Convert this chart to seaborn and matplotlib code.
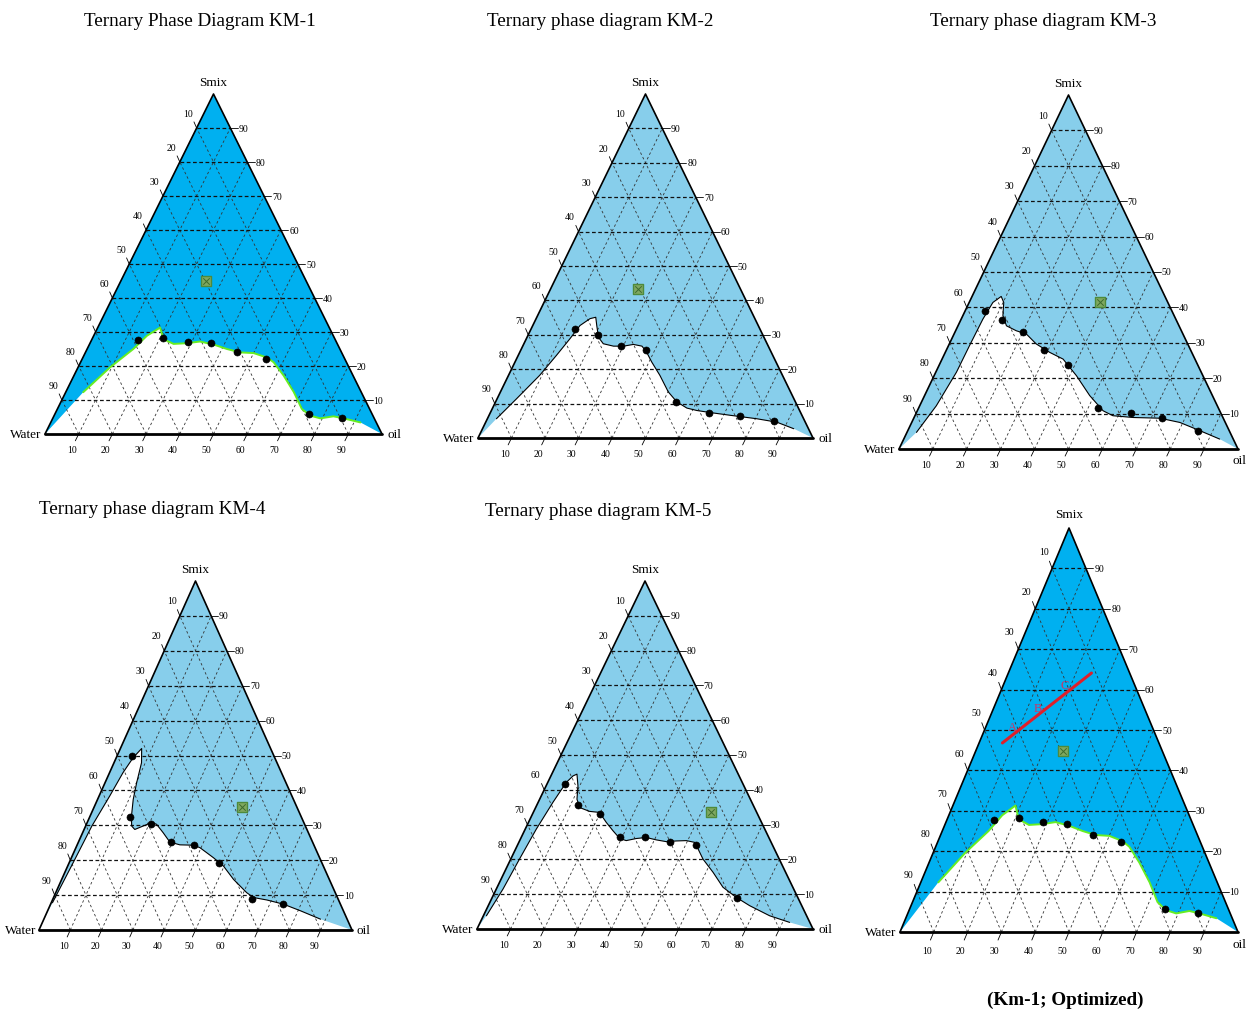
import numpy as np
import matplotlib
matplotlib.use('Agg')
import matplotlib.pyplot as plt
import seaborn as sns

sns.set_theme(style='white')
plt.rcParams['font.family'] = ['Liberation Serif', 'DejaVu Serif']
plt.rcParams['text.color'] = 'black'

# Data: (oil %, Smix %); water = 100 - oil - smix
km1_curve_oil = [5.2, 9.5, 13.7, 15.8, 18.5, 21.2, 24.9, 28.7, 32.4, 36.9, 41.5, 45.9, 50.0,
                 54.6, 57.3, 62.2, 67.7, 72.5, 76.0, 79.4, 83.0, 86.3, 91.9]
km1_curve_smix = [12.3, 19.6, 25.0, 28.9, 31.3, 27.9, 26.5, 26.7, 27.2, 26.3, 25.0, 24.0, 23.8,
                  22.5, 21.1, 17.2, 12.3, 7.4, 5.4, 4.6, 5.2, 4.6, 3.4]
km1_dot_oil = [13.9, 21.0, 28.7, 36.0, 45.0, 54.4, 75.4, 85.7]
km1_dot_smix = [27.6, 28.2, 27.2, 26.7, 24.0, 22.2, 5.8, 4.7]

km2_curve_oil = [2.7, 5.8, 9.3, 11.4, 13.0, 14.1, 16.1, 17.6, 19.1, 21.3, 23.7, 27.1, 30.1, 32.8,
                 35.6, 37.8, 40.8, 45.2, 50.1, 54.1, 58.0, 61.3, 65.6, 72.0, 80.4, 86.9, 92.9]
km2_curve_smix = [5.6, 11.4, 18.2, 24.0, 28.8, 32.7, 34.7, 35.1, 32.7, 29.3, 27.4, 26.7, 26.7, 27.2,
                  26.7, 25.0, 22.1, 18.2, 13.4, 10.5, 8.7, 8.0, 7.4, 6.6, 5.6, 4.6, 2.7]
km2_dot_oil = [13.1, 20.8, 29.3, 37.3, 53.9, 65.2, 75.1, 86.0]
km2_dot_smix = [31.6, 29.8, 26.7, 25.7, 10.5, 7.3, 6.4, 4.8]

km3_curve_oil = [2.8, 4.9, 6.1, 6.2, 6.4, 7.0, 8.6, 10.2, 11.8, 14.3, 17.9, 21.3, 25.6, 30.8,
                 35.7, 42.0, 48.7, 54.8, 58.4, 64.6, 72.6, 79.1, 86.1, 93.2]
km3_curve_smix = [4.7, 12.2, 21.7, 29.2, 36.7, 41.4, 43.1, 41.4, 37.7, 34.8, 33.4, 32.5, 29.7, 27.3,
                  25.4, 20.7, 15.1, 10.8, 9.4, 8.9, 8.7, 7.5, 5.2, 2.8]
km3_dot_oil = [5.8, 12.1, 20.1, 28.7, 38.0, 52.9, 63.3, 73.2, 85.6]
km3_dot_smix = [38.9, 36.5, 33.0, 28.1, 23.8, 11.7, 10.1, 8.7, 5.2]

km4_curve_oil = [0.4, 1.2, 2.0, 3.4, 4.3, 5.4, 6.8, 8.8, 10.1, 11.4, 13.2, 14.7, 16.2, 18.4, 20.6,
                 22.4, 25.7, 29.2, 32.8, 37.2, 39.6, 45.4, 49.8, 54.9, 61.0, 63.9, 68.5, 74.4,
                 80.8, 88.4]
km4_curve_smix = [7.8, 18.3, 29.8, 38.4, 45.1, 49.4, 52.0, 47.9, 42.2, 37.4, 32.7, 29.8, 28.8, 29.8,
                  30.8, 30.3, 27.9, 25.2, 24.4, 24.3, 23.6, 20.7, 18.3, 14.5, 10.7, 9.3, 8.6, 7.4,
                  5.5, 3.1]
km4_dot_oil = [4.6, 12.8, 20.5, 29.4, 37.4, 47.9, 63.4, 74.2]
km4_dot_smix = [50.0, 32.5, 30.5, 25.3, 24.3, 19.3, 9.0, 7.4]

km5_curve_oil = [0.9, 2.0, 2.6, 3.3, 4.4, 5.5, 6.6, 7.5, 9.5, 11.1, 13.1, 16.6, 19.7, 23.2, 26.4,
                 29.5, 31.7, 34.4, 37.2, 40.6, 43.8, 46.7, 49.6, 52.3, 54.3, 57.2, 62.1, 67.2,
                 72.6, 77.8, 85.2, 92.1]
km5_curve_smix = [3.8, 11.5, 20.1, 28.7, 36.4, 42.1, 44.0, 44.5, 41.1, 37.3, 34.9, 33.8, 33.5, 30.6,
                  28.2, 26.0, 25.4, 26.0, 26.3, 25.6, 25.1, 25.3, 25.4, 24.9, 23.0, 20.1, 16.3,
                  12.0, 9.1, 6.7, 3.8, 1.9]
km5_dot_oil = [5.2, 12.2, 20.0, 29.5, 36.8, 45.0, 53.0, 73.1]
km5_dot_smix = [41.8, 35.7, 33.0, 26.3, 26.3, 25.1, 24.1, 8.8]

# small green formulation marker (oil, smix) for each panel
marker_oil = [25.3, 26.2, 38.5, 47.1, 52.7, 25.8]
marker_smix = [45.1, 43.4, 41.4, 35.3, 33.7, 44.9]

# optimised dilution line and points A, B, C (Km-1 optimized)
opt_line_oil = [6.9, 24.6]
opt_line_smix = [46.8, 64.1]
opt_labels = ['A', 'B', 'C']
opt_label_oil = [7.8, 13.2, 18.0]
opt_label_smix = [50.8, 55.4, 61.2]

titles = ['Ternary Phase Diagram KM-1', 'Ternary phase diagram KM-2', 'Ternary phase diagram KM-3',
          'Ternary phase diagram KM-4', 'Ternary phase diagram KM-5', '(Km-1; Optimized)']
ticks = list(range(10, 100, 10))


def tern(oil, smix):
    oil = np.asarray(oil, dtype=float)
    smix = np.asarray(smix, dtype=float)
    return oil + smix / 2, smix


def draw_panel(ax, c_oil, c_smix, d_oil, d_smix, m_oil, m_smix, fill, edge, oil_at_edge=False):
    ax.set_xlim(0, 100)
    ax.set_ylim(0, 100)
    ax.axis('off')
    ax.fill([0, 100, 50], [0, 0, 100], color=fill, lw=0, zorder=1)
    wx, wy = tern([0] + c_oil + [100], [0] + c_smix + [0])
    ax.fill(wx, wy, color='white', lw=0, zorder=2)

    # grid
    for v in ticks:
        ax.plot([v / 2, 100 - v / 2], [v, v], color='#111111', lw=0.9, ls=(0, (3, 2)), zorder=3)
        ax.plot([v, v + (100 - v) / 2], [0, 100 - v], color='#333333', lw=0.6, ls=(0, (3, 3)), zorder=3)
        ax.plot([100 - v, (100 - v) / 2], [0, 100 - v], color='#333333', lw=0.6, ls=(0, (3, 3)), zorder=3)

    # phase boundary
    bx, by = tern(c_oil, c_smix)
    sns.lineplot(x=bx, y=by, sort=False, estimator=None, color=edge, lw=1.4 if edge != 'black' else 0.8,
                 ax=ax, legend=False, zorder=4)
    dx, dy = tern(d_oil, d_smix)
    sns.scatterplot(x=dx, y=dy, color='black', s=26, edgecolor='black', ax=ax, legend=False, zorder=5)
    mx, my = tern([m_oil], [m_smix])
    ax.scatter(mx, my, marker='s', s=55, facecolor='#7fa860', edgecolor='#4e8a3c', lw=1, zorder=5)
    ax.scatter(mx, my, marker='x', s=22, color='#3d6b2e', lw=0.7, zorder=6)

    # outline
    ax.plot([0, 50, 100], [0, 100, 0], color='black', lw=1.2, zorder=6, clip_on=False)
    ax.plot([0, 100], [0, 0], color='black', lw=2, zorder=6, clip_on=False)

    # ticks and labels
    for v in ticks:
        ax.plot([v, v - 1], [0, -2], color='black', lw=0.6, clip_on=False)
        ax.text(v - 2, -4.5, str(v), fontsize=7, ha='center', va='center')
        rx, ry = 100 - v / 2, v
        ax.plot([rx, rx + 2.2], [ry, ry], color='black', lw=0.6, clip_on=False)
        ax.text(rx + 2.5, ry, str(v), fontsize=7, ha='left', va='center')
        lx, ly = 50 - v / 2, 100 - v
        ax.plot([lx, lx - 0.8], [ly, ly + 1.8], color='black', lw=0.6, clip_on=False)
        ax.text(lx - 2.5, ly + 4.3, str(v), fontsize=7, ha='center', va='center')
    ax.text(50, 103.5, 'Smix', fontsize=9.5, ha='center', va='center')
    ax.text(-1, 0, 'Water', fontsize=9.5, ha='right', va='center')
    if oil_at_edge:
        ax.text(102.5, -1.5, 'oil', fontsize=9.5, ha='right', va='top')
    else:
        ax.text(101.5, 0, 'oil', fontsize=9.5, ha='left', va='center')


fig = plt.figure(figsize=(12.48, 10.12), dpi=100)
W, H = 1248, 1012
# (left x, base y, width, height) in pixels
boxes = [(45, 435, 337, 340), (478, 439, 335, 344), (899, 450, 339, 354),
         (39, 931, 313, 349), (477, 930, 336, 348), (900, 933, 338, 404)]
curves = [(km1_curve_oil, km1_curve_smix, km1_dot_oil, km1_dot_smix),
          (km2_curve_oil, km2_curve_smix, km2_dot_oil, km2_dot_smix),
          (km3_curve_oil, km3_curve_smix, km3_dot_oil, km3_dot_smix),
          (km4_curve_oil, km4_curve_smix, km4_dot_oil, km4_dot_smix),
          (km5_curve_oil, km5_curve_smix, km5_dot_oil, km5_dot_smix),
          (km1_curve_oil, km1_curve_smix, km1_dot_oil, km1_dot_smix)]
fills = ['#00b0f0', '#87ceeb', '#87ceeb', '#87ceeb', '#87ceeb', '#00b0f0']
edges = ['#66ee22', 'black', 'black', 'black', 'black', '#66ee22']

axes = []
for i, (x0, yb, w, h) in enumerate(boxes):
    ax = fig.add_axes([x0 / W, 1 - yb / H, w / W, h / H])
    c_oil, c_smix, d_oil, d_smix = curves[i]
    draw_panel(ax, c_oil, c_smix, d_oil, d_smix, marker_oil[i], marker_smix[i], fills[i], edges[i],
               oil_at_edge=(i in (2, 5)))
    axes.append(ax)

# optimised line on last panel
ax = axes[5]
lx, ly = tern(opt_line_oil, opt_line_smix)
ax.plot(lx, ly, color='#e01f2a', lw=2.2, zorder=7)
tx, ty = tern(opt_label_oil, opt_label_smix)
for lab, x, y in zip(opt_labels, tx, ty):
    ax.text(x, y, lab, color='#cc3366', fontsize=9, ha='center', va='center', zorder=8)

# titles
title_pos = [(200, 22), (600, 22), (1043, 22), (152, 510), (598, 512), (1065, 1000)]
for t, (x, y) in zip(titles, title_pos):
    fig.text(x / W, 1 - y / H, t, fontsize=13.8, ha='center', va='center',
             fontweight='bold' if t.startswith('(') else 'normal')

fig.savefig('out.png', dpi=100)
